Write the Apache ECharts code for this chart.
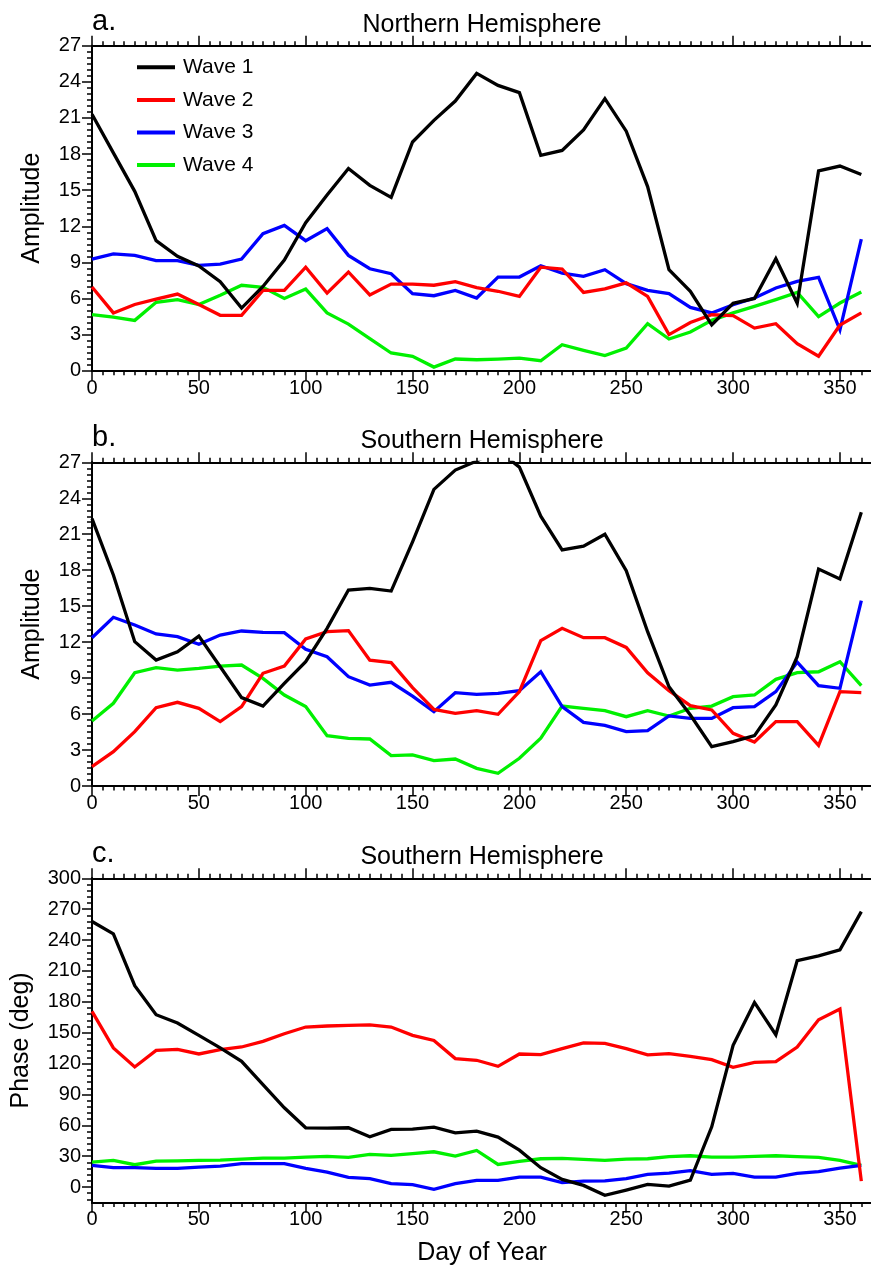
<!DOCTYPE html>
<html>
<head>
<meta charset="utf-8">
<title>Planetary wave amplitude and phase</title>
<script src="https://cdn.jsdelivr.net/npm/echarts@6/dist/echarts.min.js"></script>
<style>
  html, body { margin: 0; padding: 0; background: #ffffff; }
  #chart { width: 871px; height: 1270px; }
</style>
</head>
<body>
<div id="chart"></div>
<script>
// Day of year for every sample (10-day steps)
const days = [0, 10, 20, 30, 40, 50, 60, 70, 80, 90, 100, 110, 120, 130, 140, 150, 160, 170, 180,
              190, 200, 210, 220, 230, 240, 250, 260, 270, 280, 290, 300, 310, 320, 330, 340, 350, 360];

const waveNames = ['Wave 1', 'Wave 2', 'Wave 3', 'Wave 4'];

// a. Northern Hemisphere amplitude
const nhWave1 = [21.3, 18.1, 14.9, 10.8, 9.5, 8.7, 7.4, 5.2, 7.0, 9.2, 12.3, 14.6, 16.8, 15.4, 14.4, 19.0, 20.8, 22.4, 24.7,
                 23.7, 23.1, 17.9, 18.3, 20.0, 22.6, 19.9, 15.3, 8.4, 6.6, 3.8, 5.6, 6.0, 9.3, 5.6, 16.6, 17.0, 16.3];
const nhWave2 = [6.95, 4.8, 5.5, 5.95, 6.37, 5.5, 4.6, 4.6, 6.67, 6.67, 8.6, 6.45, 8.2, 6.3, 7.2, 7.2, 7.1, 7.4, 6.9,
                 6.6, 6.17, 8.6, 8.45, 6.5, 6.8, 7.3, 6.17, 3.0, 4.0, 4.65, 4.57, 3.54, 3.9, 2.24, 1.2, 3.8, 4.8];
const nhWave3 = [9.27, 9.7, 9.58, 9.14, 9.14, 8.75, 8.86, 9.27, 11.38, 12.07, 10.8, 11.8, 9.58, 8.47, 8.06, 6.4, 6.23, 6.67, 6.04,
                 7.78, 7.78, 8.72, 8.1, 7.84, 8.39, 7.23, 6.67, 6.4, 5.26, 4.8, 5.48, 6.04, 6.87, 7.42, 7.75, 3.4, 10.94];
const nhWave4 = [4.65, 4.46, 4.18, 5.68, 5.9, 5.5, 6.26, 7.1, 6.92, 6.0, 6.78, 4.8, 3.87, 2.66, 1.47, 1.2, 0.3, 0.97, 0.91,
                 0.97, 1.05, 0.83, 2.16, 1.69, 1.25, 1.88, 3.9, 2.63, 3.21, 4.18, 4.8, 5.34, 5.9, 6.5, 4.5, 5.62, 6.54];

// b. Southern Hemisphere amplitude
const shWave1 = [22.3, 17.6, 12.04, 10.5, 11.2, 12.5, 9.95, 7.37, 6.67, 8.56, 10.37, 13.15, 16.35, 16.49, 16.26, 20.37, 24.74, 26.35, 27.1,
                 28.0, 26.6, 22.5, 19.7, 20.0, 21.0, 17.96, 12.87, 8.28, 5.92, 3.28, 3.7, 4.2, 6.76, 10.78, 18.1, 17.26, 22.83];
const shWave2 = [1.61, 2.86, 4.53, 6.53, 6.98, 6.48, 5.37, 6.62, 9.4, 10.0, 12.26, 12.87, 12.96, 10.5, 10.29, 8.2, 6.39, 6.06, 6.28,
                 5.98, 7.87, 12.12, 13.15, 12.37, 12.37, 11.56, 9.45, 7.95, 6.7, 6.34, 4.39, 3.67, 5.37, 5.37, 3.39, 7.87, 7.78];
const shWave3 = [12.37, 14.07, 13.43, 12.68, 12.46, 11.82, 12.59, 12.93, 12.82, 12.79, 11.4, 10.78, 9.12, 8.42, 8.65, 7.5, 6.2, 7.78, 7.65,
                 7.73, 7.95, 9.53, 6.62, 5.31, 5.06, 4.53, 4.61, 5.84, 5.64, 5.64, 6.53, 6.62, 7.87, 10.34, 8.37, 8.15, 15.46];
const shWave4 = [5.42, 6.9, 9.45, 9.87, 9.67, 9.81, 10.0, 10.09, 8.98, 7.59, 6.62, 4.2, 3.98, 3.92, 2.53, 2.59, 2.11, 2.25, 1.47,
                 1.06, 2.31, 3.98, 6.67, 6.48, 6.28, 5.78, 6.28, 5.84, 6.48, 6.67, 7.45, 7.59, 8.9, 9.45, 9.53, 10.37, 8.37];

// c. Southern Hemisphere phase (degrees)
const phWave1 = [258, 246, 195.6, 167.5, 159.4, 147.4, 135.2, 122.2, 99.6, 77, 57.6, 57.3, 57.6, 48.9, 56, 56.3, 58.2, 52.7, 54.3,
                 48.5, 35.9, 18.8, 7.5, 1.6, -8, -2.9, 2.6, 1, 6.8, 58.5, 137.7, 179.4, 148, 220.1, 224.7, 230.5, 267.6];
const phWave2 = [170.7, 135.2, 116.7, 132.8, 133.8, 129.3, 133.5, 136.1, 141.6, 149, 155.5, 156.5, 157.1, 157.5, 155.5, 147.4, 142.5, 124.8, 123.2,
                 117.3, 129.3, 128.7, 134.5, 140, 139.7, 134.5, 128.4, 129.6, 127, 123.8, 116.4, 121.2, 121.9, 136.1, 162.6, 173, 5.8];
const phWave3 = [21, 18.8, 18.8, 18.1, 18.1, 19.4, 20.4, 22.7, 22.7, 22.7, 18.1, 14.5, 9.4, 8.1, 3.3, 2.3, -2.2, 3.3, 6.5,
                 6.5, 9.7, 9.7, 4.3, 5.8, 6.1, 8.1, 12.3, 13.6, 15.9, 12.3, 13.3, 9.7, 9.7, 13.3, 14.9, 18.4, 21];
const phWave4 = [24.2, 25.9, 21.7, 25.2, 25.5, 25.9, 26.2, 27.2, 28.1, 28.1, 29.1, 29.8, 28.8, 31.7, 30.7, 32.4, 34.3, 30.1, 35.6,
                 22, 24.9, 27.5, 27.9, 26.9, 25.9, 27.2, 27.5, 29.5, 30.4, 29.1, 29.1, 29.8, 30.4, 29.5, 28.8, 25.9, 21];

// Tick labels
const dayTicks = [0, 50, 100, 150, 200, 250, 300, 350];
const ampTicks = [0, 3, 6, 9, 12, 15, 18, 21, 24, 27];
const phaseTicks = [0, 30, 60, 90, 120, 150, 180, 210, 240, 270, 300];

// Minor tick positions between the labelled ones
function minorSteps(from, to, step, majorStep) {
  const out = [];
  const n = Math.round((to - from) / step);
  for (let i = 0; i <= n; i++) {
    const v = Math.round((from + i * step) * 1000) / 1000;
    const r = v / majorStep;
    if (Math.abs(r - Math.round(r)) > 1e-6) out.push(v);
  }
  return out;
}
const dayMinor = minorSteps(0, 365, 5, 50);
const ampMinor = minorSteps(0, 27, 0.5, 3);
const phaseMinor = minorSteps(-12, 300, 6, 30);

const colors = ['#000000', '#ff0000', '#0000ff', '#00f000'];
const FONT = "'Liberation Sans', Arial, Helvetica, sans-serif";
const AXIS_LINE = { show: true, onZero: false, lineStyle: { color: '#000', width: 2 } };
const TICK_STYLE = { color: '#000', width: 1.5 };

const panels = [
  { top: 45.7, height: 325, yMin: 0, yMax: 27, yTicks: ampTicks, yMinor: ampMinor, labelMargin: 8,
    letter: 'a.', title: 'Northern Hemisphere', yName: 'Amplitude', yNameX: 32,
    lines: [nhWave1, nhWave2, nhWave3, nhWave4] },
  { top: 462.3, height: 323.7, yMin: 0, yMax: 27, yTicks: ampTicks, yMinor: ampMinor, labelMargin: 7,
    letter: 'b.', title: 'Southern Hemisphere', yName: 'Amplitude', yNameX: 32,
    lines: [shWave1, shWave2, shWave3, shWave4] },
  { top: 878.3, height: 324.2, yMin: -15, yMax: 300, yTicks: phaseTicks, yMinor: phaseMinor, labelMargin: 7,
    letter: 'c.', title: 'Southern Hemisphere', yName: 'Phase (deg)', yNameX: 21,
    lines: [phWave1, phWave2, phWave3, phWave4] }
];

const grid = [], xAxis = [], yAxis = [], series = [], graphic = [];

panels.forEach((p, gi) => {
  grid.push({ left: 92, width: 780, top: p.top, height: p.height, show: false, containLabel: false, outerBoundsMode: 'none' });

  const xBase = { gridIndex: gi, type: 'value', min: 0, max: 365, splitLine: { show: false }, axisLine: AXIS_LINE };
  const xMajorIdx = xAxis.length;
  xAxis.push(
    Object.assign({}, xBase, { position: 'bottom',
      axisTick: { show: true, customValues: dayTicks, length: 10, lineStyle: TICK_STYLE },
      axisLabel: { show: true, customValues: dayTicks, margin: p.labelMargin, fontSize: 20, fontFamily: FONT, color: '#000' } }),
    Object.assign({}, xBase, { position: 'bottom',
      axisTick: { show: true, customValues: dayMinor, length: 4.5, lineStyle: TICK_STYLE },
      axisLabel: { show: false } }),
    Object.assign({}, xBase, { position: 'top',
      axisTick: { show: true, customValues: dayTicks, length: 10, lineStyle: TICK_STYLE },
      axisLabel: { show: false } }),
    Object.assign({}, xBase, { position: 'top',
      axisTick: { show: true, customValues: dayMinor, length: 4.5, lineStyle: TICK_STYLE },
      axisLabel: { show: false } })
  );

  const yBase = { gridIndex: gi, type: 'value', position: 'left', min: p.yMin, max: p.yMax,
                  splitLine: { show: false }, axisLine: AXIS_LINE };
  const yMajorIdx = yAxis.length;
  yAxis.push(
    Object.assign({}, yBase, {
      axisTick: { show: true, customValues: p.yTicks, length: 10, lineStyle: TICK_STYLE },
      axisLabel: { show: true, customValues: p.yTicks, margin: 11, fontSize: 20, fontFamily: FONT, color: '#000' } }),
    Object.assign({}, yBase, {
      axisTick: { show: true, customValues: p.yMinor, length: 5, lineStyle: TICK_STYLE },
      axisLabel: { show: false } })
  );

  // Wave 4 first so Wave 1 ends up on top
  for (let k = 3; k >= 0; k--) {
    series.push({
      name: waveNames[k],
      type: 'line',
      xAxisIndex: xMajorIdx,
      yAxisIndex: yMajorIdx,
      data: days.map((d, i) => [d, p.lines[k][i]]),
      symbol: 'none',
      clip: true,
      color: colors[k],
      itemStyle: { color: colors[k] },
      lineStyle: { color: colors[k], width: 3.3, join: 'miter' },
      emphasis: { disabled: true },
      z: 2
    });
  }

  const top = p.top;
  graphic.push(
    { type: 'text', x: 92, y: top - 24, silent: true,
      style: { text: p.letter, fill: '#000', font: '29px ' + FONT, align: 'left', verticalAlign: 'middle' } },
    { type: 'text', x: 482, y: top - 20.7, silent: true,
      style: { text: p.title, fill: '#000', font: '25px ' + FONT, align: 'center', verticalAlign: 'middle' } },
    { type: 'text', x: p.yNameX, y: top + p.height / 2, rotation: Math.PI / 2, silent: true,
      style: { text: p.yName, fill: '#000', font: '25px ' + FONT, align: 'center', verticalAlign: 'middle' } }
  );
});

graphic.push({ type: 'text', x: 482, y: 1253, silent: true,
  style: { text: 'Day of Year', fill: '#000', font: '25px ' + FONT, align: 'center', verticalAlign: 'middle' } });

const chart = echarts.init(document.getElementById('chart'), null, { renderer: 'canvas' });
chart.setOption({
  backgroundColor: '#ffffff',
  animation: false,
  grid: grid,
  xAxis: xAxis,
  yAxis: yAxis,
  legend: {
    data: waveNames,
    orient: 'vertical',
    left: 132,
    top: 51.8,
    icon: 'rect',
    itemWidth: 38,
    itemHeight: 4,
    itemGap: 11.6,
    selectedMode: false,
    textStyle: { fontSize: 21, fontFamily: FONT, color: '#000', lineHeight: 21, padding: [0, 0, 0, 3] }
  },
  tooltip: { show: false },
  graphic: graphic,
  series: series
});
</script>
</body>
</html>
